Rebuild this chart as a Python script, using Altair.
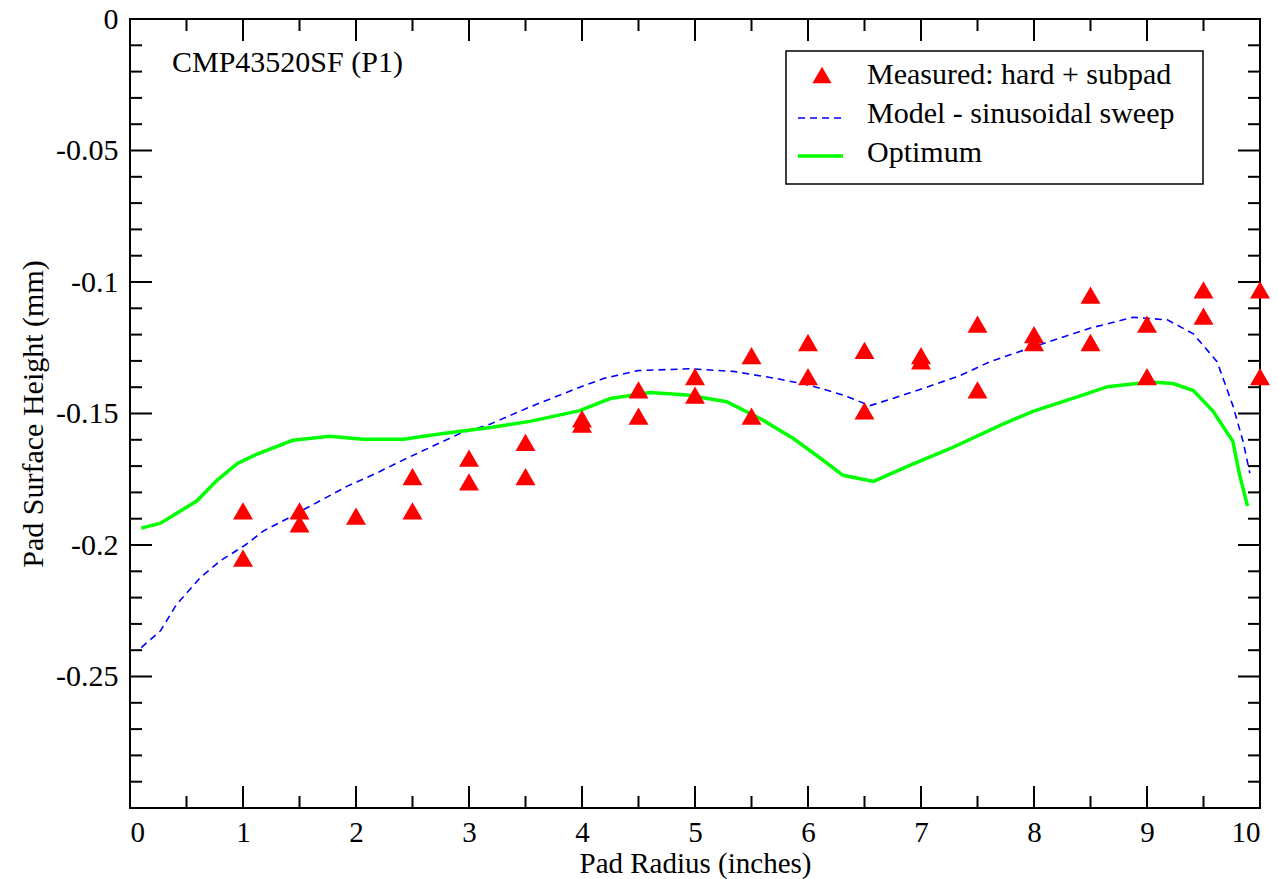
import altair as alt
import pandas as pd

# ---- data ----
meas_x = [1, 1, 1.5, 1.5, 2, 2.5, 2.5, 3, 3, 3.5, 3.5, 4, 4, 4.5, 4.5, 5, 5,
          5.5, 5.5, 6, 6, 6.5, 6.5, 7, 7, 7.5, 7.5, 8, 8, 8.5, 8.5, 9, 9,
          9.5, 9.5, 10, 10]
meas_y = [-0.187, -0.205, -0.187, -0.192, -0.189, -0.174, -0.187, -0.167, -0.176,
          -0.161, -0.174, -0.152, -0.154, -0.141, -0.151, -0.136, -0.143,
          -0.128, -0.151, -0.123, -0.136, -0.126, -0.149, -0.128, -0.130,
          -0.116, -0.141, -0.120, -0.123, -0.105, -0.123, -0.116, -0.136,
          -0.103, -0.113, -0.103, -0.136]

model_x = [0.1, 0.27, 0.41, 0.62, 0.8, 1.02, 1.18, 1.39, 1.53, 1.92, 2.18, 2.45,
           2.92, 3.19, 3.54, 3.98, 4.19, 4.49, 4.96, 5.34, 5.72, 6.02, 6.31, 6.55,
           6.75, 7.05, 7.35, 7.61, 7.99, 8.5, 8.88, 9.18, 9.41, 9.62, 9.76, 9.85, 9.91]
model_y = [-0.239, -0.2326, -0.2227, -0.2125, -0.206, -0.2, -0.1947, -0.19, -0.1867,
           -0.1777, -0.1727, -0.167, -0.1576, -0.154, -0.1475, -0.14, -0.1367,
           -0.1337, -0.133, -0.134, -0.1367, -0.1393, -0.143, -0.147, -0.1443,
           -0.14, -0.1355, -0.1303, -0.1247, -0.1175, -0.1134, -0.1144, -0.1197,
           -0.1303, -0.147, -0.1606, -0.1727]

opt_x = [0.1, 0.27, 0.41, 0.59, 0.77, 0.95, 1.12, 1.44, 1.77, 2.06, 2.42, 2.77,
         3.19, 3.54, 3.98, 4.25, 4.6, 4.93, 5.28, 5.58, 5.87, 6.11, 6.31, 6.58,
         6.9, 7.26, 7.7, 7.99, 8.43, 8.65, 9.03, 9.23, 9.41, 9.58, 9.76, 9.82, 9.89]
opt_y = [-0.1936, -0.1917, -0.188, -0.1833, -0.1754, -0.169, -0.1655, -0.1602,
         -0.1587, -0.1598, -0.1598, -0.1576, -0.1553, -0.153, -0.1489, -0.1443,
         -0.142, -0.143, -0.1455, -0.152, -0.1595, -0.167, -0.1735, -0.1758,
         -0.1697, -0.1633, -0.1545, -0.1492, -0.143, -0.1398, -0.138, -0.1386,
         -0.1413, -0.1489, -0.1606, -0.1735, -0.1852]

x_major = [0, 1, 2, 3, 4, 5, 6, 7, 8, 9, 10]
x_minor = [0.5, 1.5, 2.5, 3.5, 4.5, 5.5, 6.5, 7.5, 8.5, 9.5]
y_labels = [0, -0.05, -0.1, -0.15, -0.2, -0.25]
y_major = [0, -0.05, -0.1, -0.15, -0.2, -0.25, -0.3]
y_minor = [round(-0.01 * i, 2) for i in range(1, 30) if i % 5 != 0]

legend_labels = ["Measured: hard + subpad", "Model - sinusoidal sweep", "Optimum"]
panel_title = "CMP43520SF (P1)"

# ---- layout / style ----
W, H = 1130, 789
FONT = "'Liberation Serif', 'Times New Roman', Times, serif"
FS = 30
XFS = 29
MAJ, MIN = 22, 12

xs = alt.Scale(domain=[0, 10], nice=False, zero=False)
ys = alt.Scale(domain=[-0.3, 0], nice=False, zero=False)
x_axis = alt.Axis(values=x_major, format="d", title="Pad Radius (inches)",
                  ticks=False, tickSize=0, domain=False, grid=False,
                  labelFont=FONT, labelFontSize=XFS, labelColor="black",
                  labelPadding=33, labelBaseline="alphabetic",
                  titleFont=FONT, titleFontSize=XFS, titleFontWeight="normal",
                  titleColor="black", titleBaseline="alphabetic", titleY=64)
y_axis = alt.Axis(values=y_labels, labelExpr="toString(datum.value)",
                  title="Pad Surface Height (mm)",
                  ticks=False, tickSize=0, domain=False, grid=False,
                  labelFont=FONT, labelFontSize=FS, labelColor="black",
                  labelPadding=12,
                  titleFont=FONT, titleFontSize=FS, titleFontWeight="normal",
                  titleColor="black", titleAngle=270, titleBaseline="alphabetic",
                  titleAlign="center", titleX=-88, titleY=H / 2)


def X(f):
    return alt.X(f, type="quantitative", scale=xs, axis=x_axis)


def Y(f):
    return alt.Y(f, type="quantitative", scale=ys, axis=y_axis)


one = pd.DataFrame({"a": [0]})

# inward ticks on all four sides
def xticks(vals, length):
    d = pd.DataFrame({"v": vals})
    bot = alt.Chart(d).mark_rule(color="black", strokeWidth=2).encode(
        x=X("v"), y=alt.value(H), y2=alt.value(H - length))
    top = alt.Chart(d).mark_rule(color="black", strokeWidth=2).encode(
        x=X("v"), y=alt.value(0), y2=alt.value(length))
    return [bot, top]


def yticks(vals, length):
    d = pd.DataFrame({"v": vals})
    lef = alt.Chart(d).mark_rule(color="black", strokeWidth=2).encode(
        y=Y("v"), x=alt.value(0), x2=alt.value(length))
    rig = alt.Chart(d).mark_rule(color="black", strokeWidth=2).encode(
        y=Y("v"), x=alt.value(W), x2=alt.value(W - length))
    return [lef, rig]


ticks = xticks(x_major, MAJ) + xticks(x_minor, MIN) + yticks(y_major, MAJ) + yticks(y_minor, MIN)

model = alt.Chart(pd.DataFrame({"x": model_x, "y": model_y})).mark_line(
    color="#0000ff", strokeWidth=1.6, strokeDash=[7, 5]).encode(
    x=X("x"), y=Y("y"), order="x:Q")
opt = alt.Chart(pd.DataFrame({"x": opt_x, "y": opt_y})).mark_line(
    color="#00ff00", strokeWidth=3.5).encode(
    x=X("x"), y=Y("y"), order="x:Q")
meas = alt.Chart(pd.DataFrame({"x": meas_x, "y": meas_y})).mark_point(
    shape="triangle-up", filled=True, color="#ff0000", size=400, opacity=1).encode(
    x=X("x"), y=Y("y"))

# legend box and entries
box = alt.Chart(one).mark_rect(fill="white", stroke="black", strokeWidth=1.5).encode(
    x=alt.value(656), x2=alt.value(1073), y=alt.value(32), y2=alt.value(165))
leg_tri = alt.Chart(one).mark_point(shape="triangle-up", filled=True, color="#ff0000",
                                    size=370, opacity=1).encode(
    x=alt.value(692), y=alt.value(56))
leg_dash = alt.Chart(one).mark_rule(color="#0000ff", strokeWidth=1.6, strokeDash=[7, 5]).encode(
    x=alt.value(668), x2=alt.value(716), y=alt.value(99))
leg_solid = alt.Chart(one).mark_rule(color="#00ff00", strokeWidth=3.5).encode(
    x=alt.value(668), x2=alt.value(713), y=alt.value(137))
leg_texts = [
    alt.Chart(one).mark_text(font=FONT, fontSize=FS, align="left", baseline="alphabetic",
                             color="black").encode(
        x=alt.value(737), y=alt.value(yy), text=alt.value(lab))
    for lab, yy in zip(legend_labels, [65, 104, 143])
]
title_txt = alt.Chart(one).mark_text(font=FONT, fontSize=FS, align="left",
                                     baseline="alphabetic", color="black").encode(
    x=alt.value(42), y=alt.value(53), text=alt.value(panel_title))

chart = alt.layer(
    *ticks, model, opt, meas, box, leg_tri, leg_dash, leg_solid, *leg_texts, title_txt
).properties(
    width=W, height=H,
    autosize=alt.AutoSizeParams(type="none"),
    padding={"left": 130, "top": 19, "right": 18, "bottom": 71},
    background="white",
).configure_view(stroke="black", strokeWidth=2)

chart.save("out.html", embed_options={"renderer": "svg", "actions": False})
